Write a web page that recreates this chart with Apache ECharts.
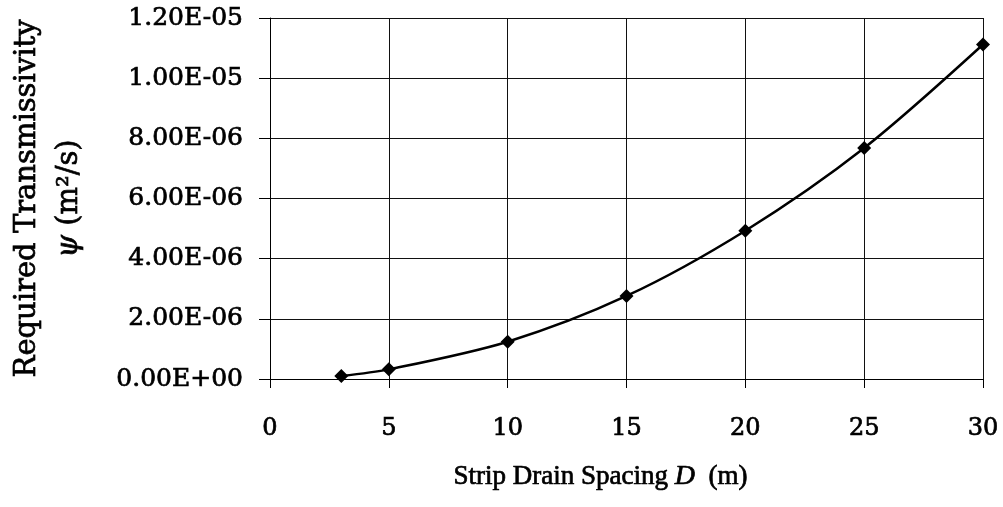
<!DOCTYPE html>
<html>
<head>
<meta charset="utf-8">
<script src="https://cdn.jsdelivr.net/npm/echarts@6/dist/echarts.min.js"></script>
<style>
  html, body { margin: 0; padding: 0; background: #fff; }
  #chart { width: 1003px; height: 507px; }
</style>
</head>
<body>
<div id="chart"></div>
<script>
const spacing = [3, 5, 10, 15, 20, 25, 30];
const transmissivity = [0.10e-6, 0.32e-6, 1.24e-6, 2.76e-6, 4.93e-6, 7.68e-6, 11.12e-6];

function sciLabel(v) {
    const parts = v.toExponential(2).split('e');
    const exp = parseInt(parts[1], 10);
    const sign = exp < 0 ? '-' : '+';
    return parts[0] + 'E' + sign + String(Math.abs(exp)).padStart(2, '0');
}

const serif = '"DejaVu Serif", serif';
const times = '"Liberation Serif", serif';
// scanned text in the original looks a bit heavier than a regular face
const ink = { color: '#000', textBorderColor: '#000', textBorderWidth: 0.7 };

const chartDom = document.getElementById('chart');
const myChart = echarts.init(chartDom);

const option = {
    animation: false,
    grid: { left: 270, right: 20, top: 18, bottom: 128, outerBoundsMode: 'none' },
    xAxis: {
        type: 'value',
        min: 0,
        max: 30,
        interval: 5,
        name: 'Strip Drain Spacing {i|D}  (m)',
        nameLocation: 'middle',
        nameGap: 84,
        nameTextStyle: {
            ...ink,
            fontFamily: times,
            fontSize: 27,
            padding: [0, 52, 0, 0],
            rich: { i: { ...ink, fontFamily: times, fontStyle: 'italic', fontSize: 28 } }
        },
        axisLine: { lineStyle: { color: '#000', width: 1 } },
        axisTick: { show: true, length: 9, lineStyle: { color: '#000' } },
        axisLabel: {
            ...ink,
            margin: 38,
            fontFamily: serif,
            fontSize: 24
        },
        splitLine: { show: true, lineStyle: { color: '#111', width: 1 } }
    },
    yAxis: {
        type: 'value',
        min: 0,
        max: 1.2e-5,
        interval: 2e-6,
        name: 'Required Transmissivity\n{i|ψ} (m²/s)',
        nameLocation: 'middle',
        nameRotate: 90,
        nameGap: 180,
        nameTextStyle: {
            ...ink,
            fontFamily: serif,
            fontSize: 29,
            lineHeight: 42,
            rich: { i: { ...ink, fontFamily: serif, fontStyle: 'italic', fontSize: 29, lineHeight: 42 } }
        },
        axisLine: { show: true, lineStyle: { color: '#000', width: 1 } },
        axisTick: { show: true, length: 11, lineStyle: { color: '#000' } },
        axisLabel: {
            ...ink,
            margin: 27,
            fontFamily: serif,
            fontSize: 25,
            formatter: sciLabel
        },
        splitLine: { show: true, lineStyle: { color: '#111', width: 1 } }
    },
    series: [{
        type: 'line',
        data: spacing.map((x, i) => [x, transmissivity[i]]),
        smooth: 0.3,
        symbol: 'diamond',
        symbolSize: 14,
        itemStyle: { color: '#000' },
        lineStyle: { color: '#000', width: 2.5 }
    }]
};

myChart.setOption(option);
</script>
</body>
</html>
